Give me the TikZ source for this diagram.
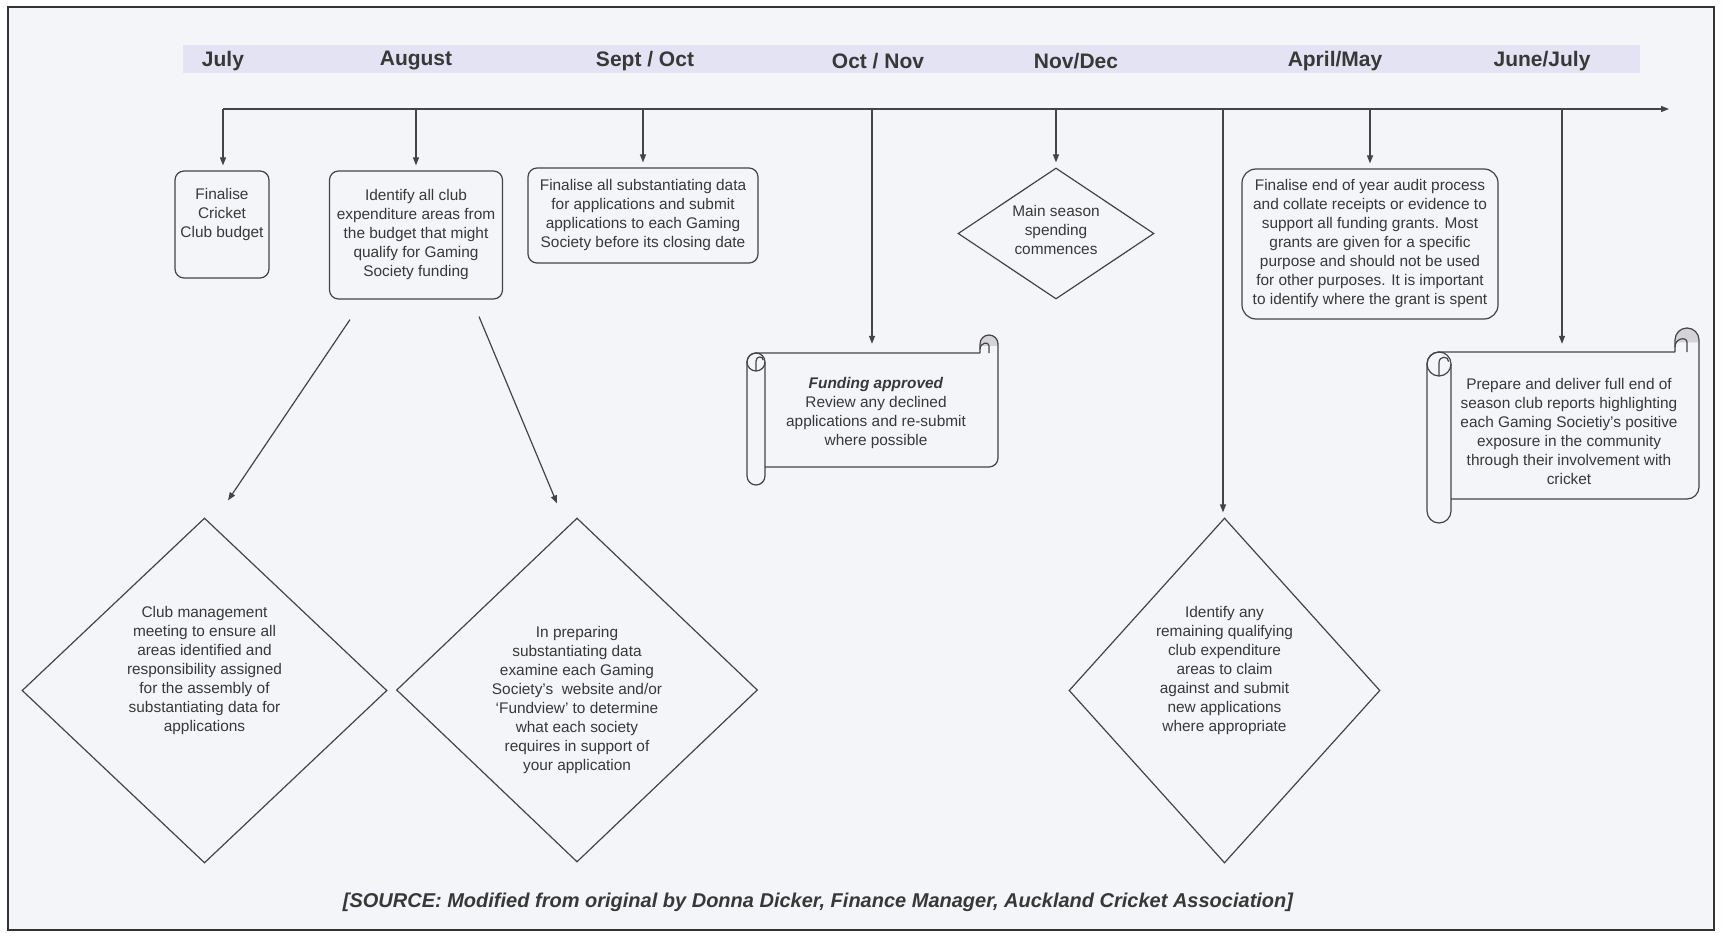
\documentclass[tikz,border=0pt]{standalone}
\usepackage{fontspec}
\setmainfont{Liberation Sans}
\usetikzlibrary{shapes.geometric,arrows.meta}
\definecolor{ink}{HTML}{444444}
\definecolor{paper}{HTML}{F4F5F9}
\definecolor{band}{HTML}{E3E3F3}
\definecolor{curl}{HTML}{D4D4D8}
\definecolor{txtc}{HTML}{383838}
\tikzset{line/.style={draw=ink, line width=1.2pt},
  conn/.style={line, -{Triangle[length=8pt,width=6pt]}, shorten >=5pt},
  box/.style={line, rounded corners=9pt, inner sep=2pt, align=center, text=txtc, font=\fontsize{15.4}{19}\selectfont},
  dia/.style={line, diamond, inner sep=0pt},
  txt/.style={align=center, text=txtc, inner sep=0pt, font=\fontsize{15.4}{19}\selectfont},
  month/.style={text=txtc, font=\fontsize{21}{24}\selectfont\bfseries}}

% scroll outline: left, top, width, height, roll size
\newcommand\scrollroll[5]{%
  \pgfmathsetmacro\rr{#5/2}
  \begin{scope}[shift={(#1,#2)}]
   \fill[curl] ({#3-#5},{0.6*#5}) -- ({#3-#5},\rr) arc[start angle=180, end angle=0, radius=\rr pt] -- (#3,{0.6*#5}) -- cycle;
   \draw[line, rounded corners=\rr pt] ({#3-#5},#5) -- (0,#5) -- (0,#4) -- (#5,#4) -- (#5,{1.5*#5});
   \draw[line, rounded corners=\rr pt] ({#3-#5},#5) -- ({#3-#5},0) -- (#3,0) -- (#3,{#4-#5}) -- (#5,{#4-#5});
   \draw[line] (\rr,{1.5*#5}) circle[radius=\rr pt];
   \draw[line] (\rr,{2*#5}) -- (\rr,{1.45*#5}) .. controls (\rr,{1.15*#5}) and ({0.9*#5},{1.15*#5}) .. ({0.9*#5},{1.4*#5});
   \draw[line] ({#3-\rr},#5) -- ({#3-\rr},{0.6*#5}) .. controls ({#3-\rr},{0.35*#5}) and ({#3-#5},{0.4*#5}) .. ({#3-#5},{0.8*#5});
  \end{scope}}

\begin{document}
\begin{tikzpicture}[x=1pt, y=-1pt]
  \useasboundingbox (0,0) rectangle (1724,933);
  \fill[white!96!paper] (0,0) rectangle (1724,933);
  \draw[draw=black!80, line width=2.5pt, fill=paper] (8,7) rectangle (1714,930);
  \fill[band] (183,45) rectangle (1640,73);

  % months
  \node[month] (mJul) at (223,61) {July};
  \node[month] (mAug) at (416,61) {August};
  \node[month] (mSep) at (645,61) {Sept / Oct};
  \node[month] (mOct) at (878,61) {Oct / Nov};
  \node[month] (mNov) at (1076,61) {Nov/Dec};
  \node[month] (mApr) at (1335,61) {April/May};
  \node[month] (mJun) at (1542,61) {June/July};

  % timeline
  \coordinate (tJul) at (223,109);
  \coordinate (tAug) at (416,109);
  \coordinate (tSep) at (643,109);
  \coordinate (tOct) at (872,109);
  \coordinate (tNov) at (1056,109);
  \coordinate (tMid) at (1223,109);
  \coordinate (tApr) at (1370,109);
  \coordinate (tJun) at (1562,109);
  \coordinate (tEnd) at (1669,109);
  \draw[conn, shorten >=0pt] (tJul) -- (tEnd);

  % steps
  \node[box, minimum width=94pt, minimum height=107pt] (budget) at (222,224.5) {};
  \node[txt] (budgettxt) at (222,215) {Finalise\\Cricket\\Club budget};
  \node[box, minimum width=173pt, minimum height=128pt] (ident) at (416,235)
    {Identify all club\\expenditure areas from\\the budget that might\\qualify for Gaming\\Society funding};
  \node[box, minimum width=230pt, minimum height=95pt] (subst) at (643,215.5)
    {Finalise all substantiating data\\for applications and submit\\applications to each Gaming\\Society before its closing date};
  \node[dia, minimum width=196pt, minimum height=131pt] (season) at (1056,233.5) {};
  \node[txt] (seasontxt) at (1056,230) {Main season\\spending\\commences};
  \node[box, rounded corners=14pt, minimum width=256pt, minimum height=150pt] (audit) at (1370,244)
    {Finalise end of year audit process\\and collate receipts or evidence to\\support all funding grants. Most\\grants are given for a specific\\purpose and should not be used\\for other purposes. It is important\\to identify where the grant is spent};

  \scrollroll{747}{335}{251}{150}{18}
  \node[txt, minimum width=222pt, minimum height=114pt] (fund) at (876,410) {};
  \node[txt] (fundtxt) at (876,413)
    {\textbf{\textit{Funding approved}}\\Review any declined\\applications and re-submit\\where possible};
  \scrollroll{1427}{328}{272}{195}{24}
  \node[txt, minimum width=236pt, minimum height=147pt] (report) at (1569,425.5) {};
  \node[txt] (reporttxt) at (1569,431)
    {Prepare and deliver full end of\\season club reports highlighting\\each Gaming Societiy's positive\\exposure in the community\\through their involvement with\\cricket};

  \node[dia, minimum width=365pt, minimum height=345pt] (club) at (204.5,690.5) {};
  \node[txt] (clubtxt) at (204.5,671)
    {Club management\\meeting to ensure all\\areas identified and\\responsibility assigned\\for the assembly of\\substantiating data for\\applications};
  \node[dia, minimum width=361pt, minimum height=344pt] (prep) at (577,690) {};
  \node[txt] (preptxt) at (577,700)
    {In preparing\\substantiating data\\examine each Gaming\\Society's~~website and/or\\`Fundview' to determine\\what each society\\requires in support of\\your application};
  \node[dia, minimum width=311pt, minimum height=345pt] (remain) at (1224.5,690.5) {};
  \node[txt] (remaintxt) at (1224.5,671)
    {Identify any\\remaining qualifying\\club expenditure\\areas to claim\\against and submit\\new applications\\where appropriate};

  % drops from the timeline
  \draw[conn] (tJul) -- (tJul |- budget.north);
  \draw[conn] (tAug) -- (tAug |- ident.north);
  \draw[conn] (tSep) -- (tSep |- subst.north);
  \draw[conn, shorten >=9pt] (tOct) -- (tOct |- fund.north);
  \draw[conn] (tNov) -- (tNov |- season.north);
  \draw[conn] (tMid) -- (tMid |- remain.north);
  \draw[conn] (tApr) -- (tApr |- audit.north);
  \draw[conn, shorten >=8pt] (tJun) -- (tJun |- report.north);
  \draw[conn, shorten >=0pt] ([xshift=-66pt,yshift=-20pt]ident.south) -- ([xshift=23.5pt,yshift=17pt]club.north);
  \draw[conn, shorten >=0pt] ([xshift=63pt,yshift=-17pt]ident.south) -- ([xshift=-20pt,yshift=14pt]prep.north);

  \node[text=txtc, font=\fontsize{20}{24}\selectfont\bfseries\itshape] (source) at (818,902)
    {[SOURCE: Modified from original by Donna Dicker, Finance Manager, Auckland Cricket Association]};
\end{tikzpicture}
\end{document}
